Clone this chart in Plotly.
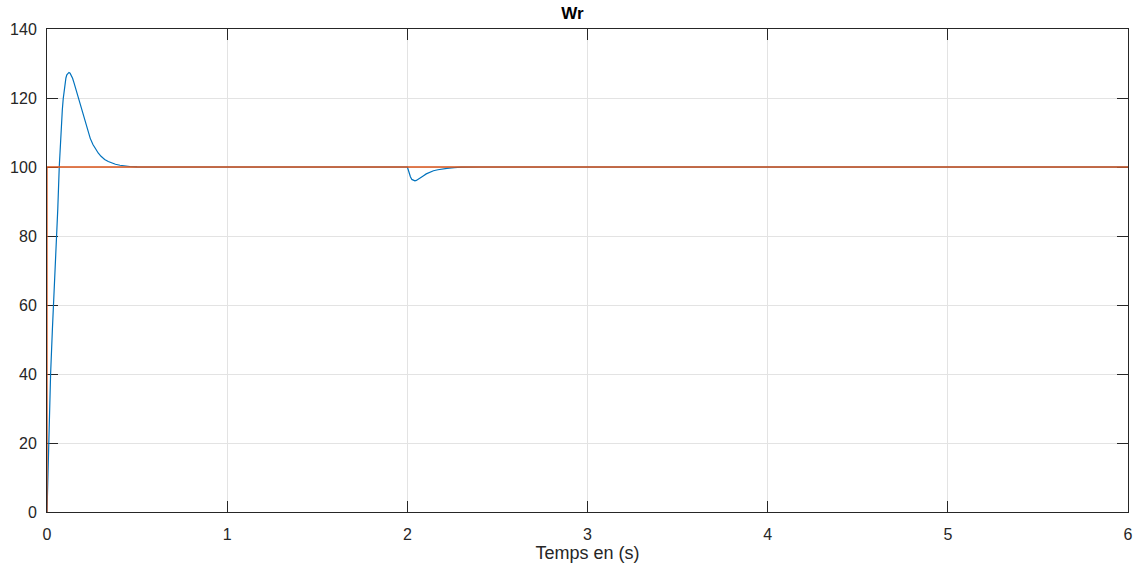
import plotly.graph_objects as go

# Measured speed Wr (blue)
t_wr = [0, 0.008, 0.02, 0.03, 0.04, 0.05, 0.06, 0.068, 0.074, 0.08, 0.085, 0.09, 0.095,
        0.1, 0.105, 0.11, 0.116, 0.122, 0.128, 0.135, 0.142, 0.15, 0.16, 0.17, 0.18,
        0.19, 0.2, 0.21, 0.225, 0.24, 0.255, 0.27, 0.285, 0.3, 0.32, 0.34, 0.36,
        0.38, 0.405, 0.43, 0.46, 0.5, 0.6, 1.0, 1.5, 2.0, 2.005, 2.01, 2.017, 2.025,
        2.033, 2.042, 2.05, 2.06, 2.075, 2.09, 2.105, 2.125, 2.145, 2.17, 2.195,
        2.22, 2.26, 2.3, 2.4, 3.0, 4.0, 5.0, 6.0]
wr = [0, 20, 40, 53, 64, 76, 88, 100, 107, 112.5, 116.5, 119.8, 122.4,
      124.4, 125.8, 126.7, 127.2, 127.4, 127.2, 126.6, 125.7, 124.4, 122.6, 120.7, 118.7,
      116.8, 114.8, 113, 110.5, 108.3, 106.5, 105.1, 104, 103.1, 102.2, 101.6, 101.1,
      100.8, 100.5, 100.3, 100.15, 100.05, 100, 100, 100, 100, 99.2, 98.3, 97.2, 96.4,
      96.1, 96.0, 96.1, 96.4, 96.9, 97.5, 98.0, 98.5, 98.9, 99.2, 99.45,
      99.6, 99.8, 99.95, 100, 100, 100, 100, 100]

# Reference speed (red)
t_ref = [0, 0, 6]
wr_ref = [0, 100, 100]

x_ticks = [0, 1, 2, 3, 4, 5, 6]
y_ticks = [0, 20, 40, 60, 80, 100, 120, 140]

fig = go.Figure()
fig.add_trace(go.Scatter(x=t_wr, y=wr, mode="lines", line=dict(color="#0072BD", width=1.2),
                         showlegend=False))
fig.add_trace(go.Scatter(x=t_ref, y=wr_ref, mode="lines", line=dict(color="#D95319", width=1.3),
                         showlegend=False))

axis_common = dict(showline=True, linecolor="#262626", linewidth=1, mirror="ticks",
                   ticks="inside", ticklen=11, tickcolor="#262626", tickwidth=1,
                   showgrid=True, gridcolor="#e3e3e3", gridwidth=1, zeroline=False,
                   layer="below traces", automargin=False,
                   tickfont=dict(family="Liberation Sans, Arial", size=16, color="#262626"))

fig.update_xaxes(range=[0, 6], tickvals=x_ticks, ticklabelstandoff=8,
                 title=dict(text="Temps en (s)", font=dict(family="Liberation Sans, Arial", size=18, color="#262626"), standoff=4),
                 **axis_common)
fig.update_yaxes(range=[0, 140], tickvals=y_ticks, ticklabelstandoff=6, **axis_common)

fig.update_layout(
    width=1145, height=572,
    margin=dict(l=47, r=17, t=29, b=60),
    plot_bgcolor="white", paper_bgcolor="white",
    title=dict(text="<b>Wr</b>", x=0.5, xanchor="center", y=0.988, yanchor="top",
               font=dict(family="Liberation Sans, Arial", size=17, color="#000000")),
)

fig.write_html("out.html")
